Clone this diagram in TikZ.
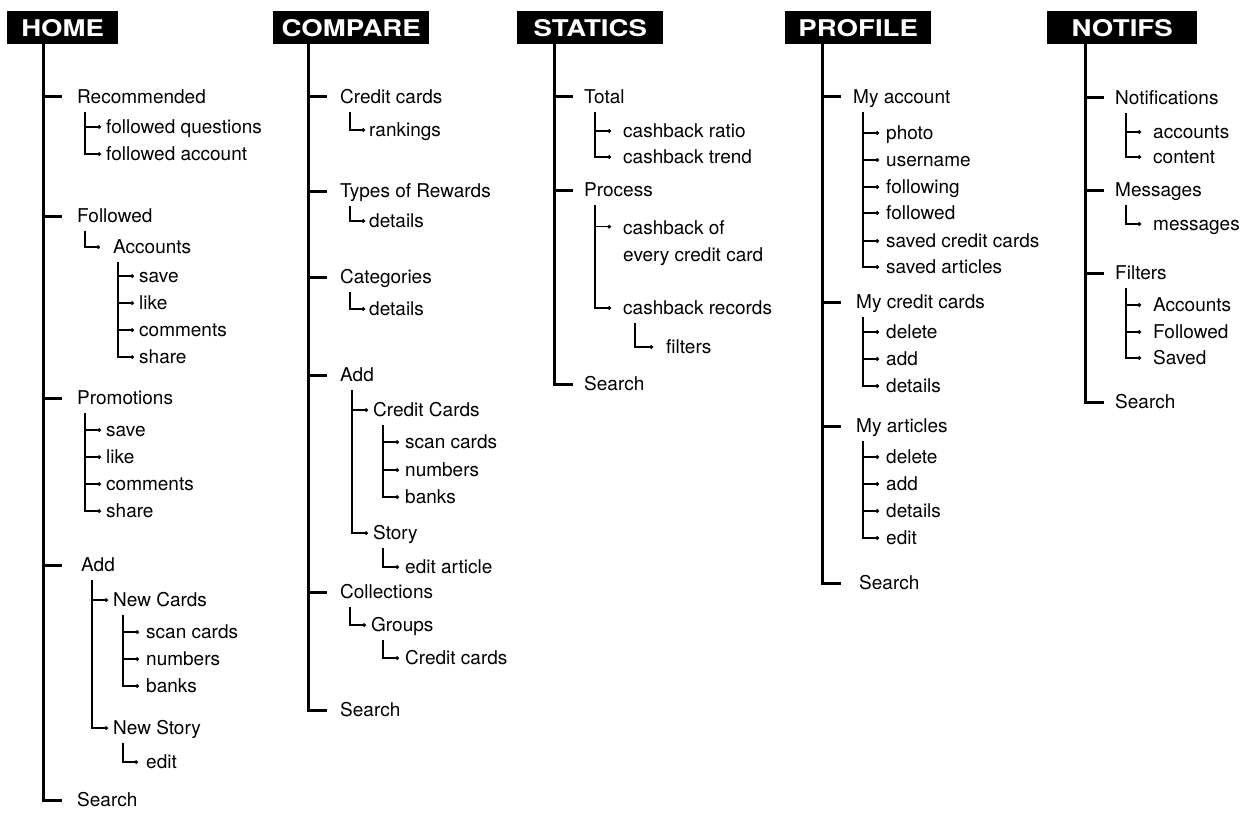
\documentclass[tikz,border=0pt]{standalone}
\usepackage{fontspec}
\setmainfont{TeX Gyre Heros}
\newfontfamily\hdrfont[FakeStretch=1.2]{TeX Gyre Heros}
\usepackage{tikz}
\usetikzlibrary{arrows.meta,positioning,calc}

\tikzset{
  hdr/.style={fill=black, text=white, inner xsep=0pt, minimum height=33pt, anchor=north west,
    font=\hdrfont\bfseries\fontsize{23}{23}\selectfont},
  item/.style={anchor=west, inner sep=0pt, text height=13pt, text depth=0pt,
    font=\fontsize{19}{23}\selectfont},
  trunk/.style={line width=3pt},
  twig/.style={line width=1.2pt, -{Circle[length=3.6pt]}}
}

% parent, x offset of the thin line, gap before the text, children
\newcommand\twigs[4]{%
  \foreach \kid in {#4}
    \draw[twig] ([xshift=#2pt,yshift=-15pt]#1.west) |- ([xshift=-#3pt]\kid.west);}

\begin{document}
\begin{tikzpicture}[x=1pt, y=-1pt]
\useasboundingbox (0,0) rectangle (1260,824);

% headers
\node[hdr, minimum width=111pt] (home) at (7,11) {HOME};
\node[hdr, minimum width=156pt] (compare) at (273,11) {COMPARE};
\node[hdr, minimum width=146pt] (statics) at (517,11) {STATICS};
\node[hdr, minimum width=146pt] (profile) at (785,11) {PROFILE};
\node[hdr, minimum width=150pt] (notifs) at (1047,11) {NOTIFS};

\coordinate (homeT) at ([xshift=36pt]home.south west);
\coordinate (compareT) at ([xshift=35pt]compare.south west);
\coordinate (staticsT) at ([xshift=37pt]statics.south west);
\coordinate (profileT) at ([xshift=37pt]profile.south west);
\coordinate (notifsT) at ([xshift=38pt]notifs.south west);

% items
\foreach \n/\x/\y/\t in {h1/77/97/Recommended, h1a/106/127/followed questions,
    h1b/106/154/followed account, h2/77/216/Followed, h2a/113/247/Accounts,
    h2a1/139/276/save, h2a2/139/303/like, h2a3/139/330/comments, h2a4/139/357/share,
    h3/77/398/Promotions, h3a/106/430/save, h3b/106/457/like, h3c/106/484/comments,
    h3d/106/511/share, h4/81/565/Add, h4a/113/600/New Cards, h4a1/146/632/scan cards,
    h4a2/146/659/numbers, h4a3/146/686/banks, h4b/113/728/New Story, h4b1/146/762/edit,
    h5/77/800/Search}
  \node[item] (\n) at (\x,\y) {\t};

\foreach \n/\x/\y/\t in {c1/340/97/Credit cards, c1a/369/130/rankings,
    c2/340/191/Types of Rewards, c2a/369/221/details, c3/340/277/Categories,
    c3a/369/309/details, c4/340/375/Add, c4a/373/410/Credit Cards,
    c4a1/405/442/scan cards, c4a2/405/470/numbers, c4a3/405/497/banks,
    c4b/373/533/Story, c4b1/405/567/edit article, c5/340/592/Collections,
    c5a/371/625/Groups, c5a1/405/658/Credit cards, c6/340/710/Search}
  \node[item] (\n) at (\x,\y) {\t};

\foreach \n/\x/\y/\t in {s1/584/97/Total, s1a/623/131/cashback ratio,
    s1b/623/157/cashback trend, s2/584/190/Process, s2b/623/308/cashback records,
    s2b1/666/347/filters, s3/584/384/Search}
  \node[item] (\n) at (\x,\y) {\t};
\node[item, anchor=north west, text height=, align=left,
  font=\fontsize{19}{27}\selectfont] (s2a) at (623,220) {cashback of\\every credit card};

\foreach \n/\x/\y/\t in {p1/853/97/My account, p1a/886/133/photo,
    p1b/886/160/username, p1c/886/187/following, p1d/886/213/followed,
    p1e/886/241/saved credit cards, p1f/886/267/saved articles,
    p2/856/302/My credit cards, p2a/886/332/delete, p2b/886/359/add,
    p2c/886/386/details, p3/856/426/My articles, p3a/886/457/delete,
    p3b/886/484/add, p3c/886/511/details, p3d/886/538/edit, p4/859/583/Search}
  \node[item] (\n) at (\x,\y) {\t};

\foreach \n/\x/\y/\t in {n1/1115/98/Notifications, n1a/1153/132/accounts,
    n1b/1153/157/content, n2/1115/190/Messages, n2a/1153/224/messages,
    n3/1115/273/Filters, n3a/1153/305/Accounts, n3b/1153/332/Followed,
    n3c/1153/358/Saved, n4/1115/402/Search}
  \node[item] (\n) at (\x,\y) {\t};

% trunks and ticks
\foreach \col/\last/\list in {home/h5/{h1,h2,h3,h4}, compare/c6/{c1,c2,c3,c4,c5},
    statics/s3/{s1,s2}, profile/p4/{p1,p2,p3}, notifs/n4/{n1,n2,n3}} {
  \draw[trunk] (\col T) -- (\col T |- \last.west) -- ++(19,0);
  \foreach \n in \list
    \draw[trunk] (\col T |- \n.west) -- ++(19,0);
}

% thin branches
\twigs{h1}{8}{5}{h1a,h1b}
\twigs{h2}{8}{13}{h2a}
\twigs{h2a}{5}{5}{h2a1,h2a2,h2a3,h2a4}
\twigs{h3}{8}{5}{h3a,h3b,h3c,h3d}
\twigs{h4}{11}{5}{h4a,h4b}
\twigs{h4a}{10}{7}{h4a1,h4a2,h4a3}
\twigs{h4b}{10}{8}{h4b1}

\twigs{c1}{10}{4}{c1a}
\twigs{c2}{10}{4}{c2a}
\twigs{c3}{10}{4}{c3a}
\twigs{c4}{12}{5}{c4a,c4b}
\twigs{c4a}{10}{6}{c4a1,c4a2,c4a3}
\twigs{c4b}{10}{6}{c4b1}
\twigs{c5}{10}{5}{c5a}
\twigs{c5a}{12}{6}{c5a1}

\twigs{s1}{11}{12}{s1a,s1b}
\draw[twig] ([xshift=11pt,yshift=-15pt]s2.west) |- ([xshift=-12pt,yshift=-6.7pt]s2a.north west);
\twigs{s2}{11}{12}{s2b}
\twigs{s2b}{12}{13}{s2b1}

\twigs{p1}{10}{7}{p1a,p1b,p1c,p1d,p1e,p1f}
\twigs{p2}{7}{7}{p2a,p2b,p2c}
\twigs{p3}{7}{7}{p3a,p3b,p3c,p3d}

\twigs{n1}{11}{12}{n1a,n1b}
\twigs{n2}{11}{12}{n2a}
\twigs{n3}{11}{12}{n3a,n3b,n3c}
\end{tikzpicture}
\end{document}
